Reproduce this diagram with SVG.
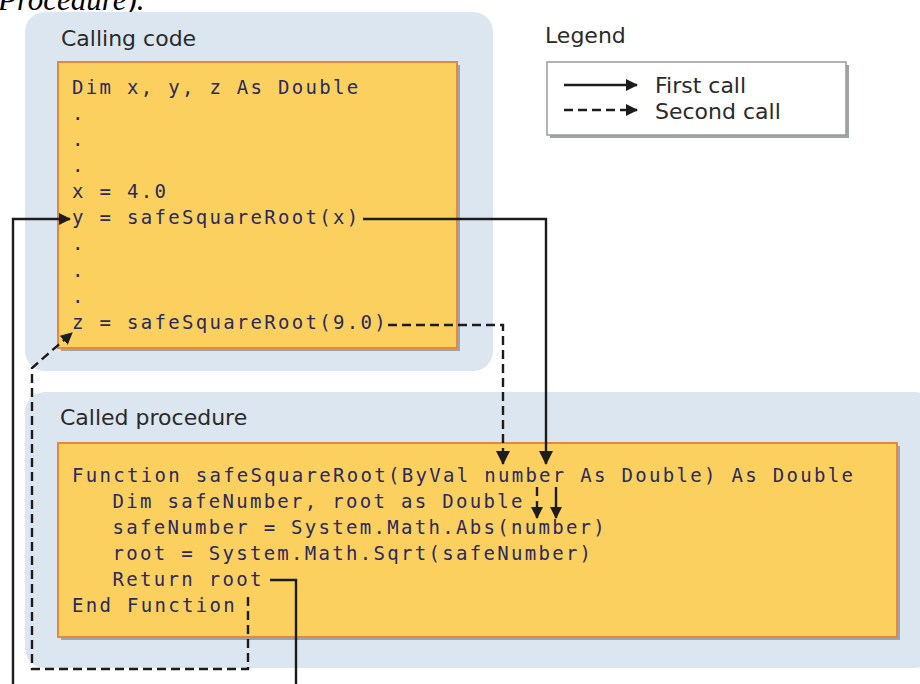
<svg xmlns="http://www.w3.org/2000/svg" width="920" height="684" viewBox="0 0 920 684">
<style>
.panel{fill:#dce6f1}
.box{fill:#fcd05e;stroke:#e4893a;stroke-width:2}
.shadow{fill:#9ea4ac}
.title{font-family:"DejaVu Sans","Verdana",sans-serif;font-size:22px;fill:#2a2a2a}
.leg{font-family:"DejaVu Sans","Verdana",sans-serif;font-size:22px;fill:#2a2a2a}
.code{font-family:"DejaVu Sans Mono","Liberation Mono",monospace;font-size:19px;letter-spacing:2.3px;fill:#2a2a5e}
.ln{fill:none;stroke:#1c1c1c;stroke-width:2.4}
.dash{stroke-dasharray:9 5}
</style>
<defs>
<marker id="ah" markerUnits="userSpaceOnUse" markerWidth="14" markerHeight="14" refX="13" refY="7" orient="auto">
<path d="M0,0 L14,7 L0,14 z" fill="#1c1c1c"/>
</marker>
<marker id="ahs" markerUnits="userSpaceOnUse" markerWidth="12" markerHeight="12" refX="11" refY="6" orient="auto">
<path d="M0,0 L12,6 L0,12 z" fill="#1c1c1c"/>
</marker>
</defs>
<rect width="920" height="684" fill="#ffffff"/>
<text x="-2" y="10" font-family="Liberation Serif, serif" font-style="italic" font-size="31" fill="#000">Procedure).</text>

<g id="calling-code">
<rect class="panel" x="25" y="12" width="468" height="359" rx="20"/>
<text class="title" x="61" y="46">Calling code</text>
<rect class="shadow" x="61" y="65" width="399" height="286"/>
<rect class="box" x="58" y="62" width="399" height="286"/>
<text class="code" x="72" y="94">Dim x, y, z As Double</text>
<text class="code" x="72" y="120">.</text>
<text class="code" x="72" y="146">.</text>
<text class="code" x="72" y="172">.</text>
<text class="code" x="72" y="198">x = 4.0</text>
<text class="code" x="72" y="224">y = safeSquareRoot(x)</text>
<text class="code" x="72" y="250">.</text>
<text class="code" x="72" y="277">.</text>
<text class="code" x="72" y="303">.</text>
<text class="code" x="72" y="329">z = safeSquareRoot(9.0)</text>
</g>

<g id="legend">
<text class="leg" x="545" y="43">Legend</text>
<rect class="shadow" x="550" y="65" width="299" height="73"/>
<rect x="547" y="62" width="299" height="73" fill="#ffffff" stroke="#9a9a9a" stroke-width="1.5"/>
<path class="ln" d="M564,85 H637" marker-end="url(#ahs)"/>
<path class="ln dash" d="M564,110 H637" marker-end="url(#ahs)"/>
<text class="leg" x="655" y="93">First call</text>
<text class="leg" x="655" y="119">Second call</text>
</g>

<g id="called-procedure">
<rect class="panel" x="25" y="392" width="910" height="276" rx="20"/>
<text class="title" x="60" y="425">Called procedure</text>
<rect class="shadow" x="61" y="446" width="839" height="194"/>
<rect class="box" x="58" y="443" width="839" height="194"/>
<text class="code" x="72" y="482">Function safeSquareRoot(ByVal number As Double) As Double</text>
<text class="code" x="112.5" y="508">Dim safeNumber, root as Double</text>
<text class="code" x="112.5" y="534">safeNumber = System.Math.Abs(number)</text>
<text class="code" x="112.5" y="560">root = System.Math.Sqrt(safeNumber)</text>
<text class="code" x="112.5" y="586">Return root</text>
<text class="code" x="72" y="612">End Function</text>
</g>

<g id="connectors">
<path class="ln" d="M363,219 H546 V464" marker-end="url(#ah)"/>
<path class="ln dash" d="M388,325 H503 V464" marker-end="url(#ah)"/>
<path class="ln dash" d="M537,487 V518" marker-end="url(#ahs)"/>
<path class="ln" d="M556,487 V518" marker-end="url(#ahs)"/>
<path class="ln" d="M270,580 H296 V684"/>
<path class="ln" d="M13,684 V219 H70" marker-end="url(#ahs)"/>
<path class="ln dash" d="M248,597 V669 H32 V368 L72,333" marker-end="url(#ahs)"/>
</g>
</svg>
